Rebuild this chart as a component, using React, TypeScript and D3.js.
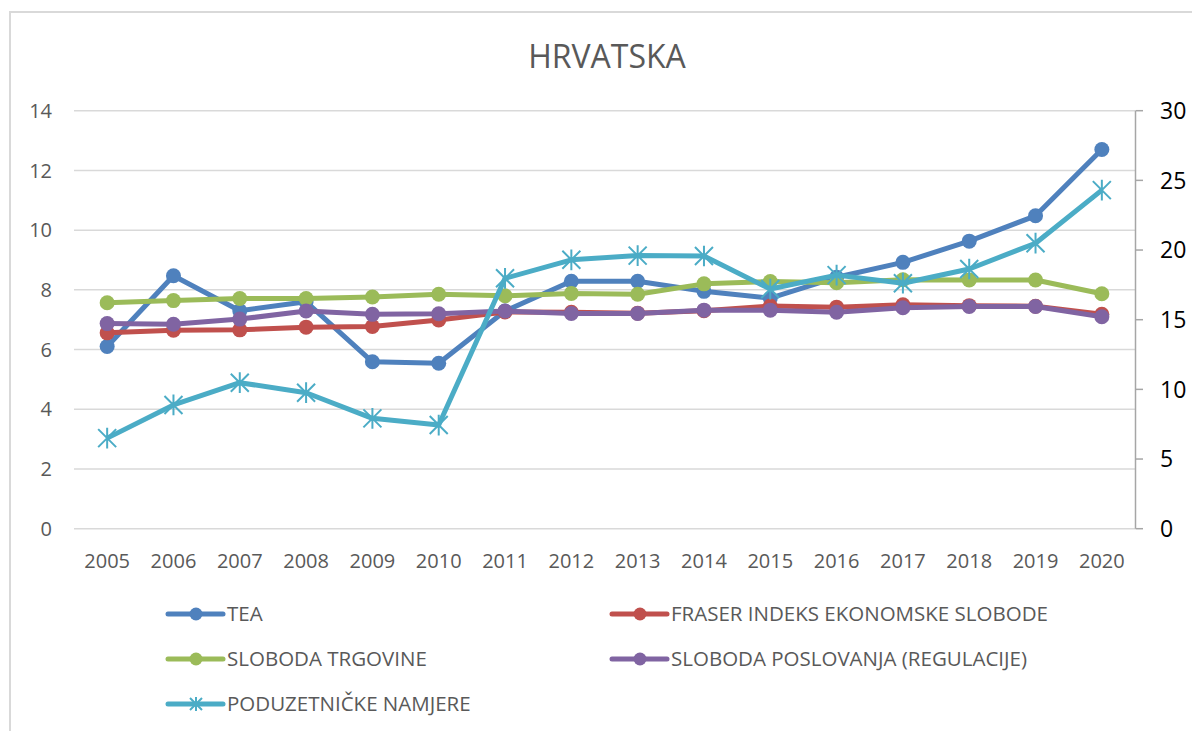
import React from 'react';
import * as d3 from 'd3';

const years = ['2005', '2006', '2007', '2008', '2009', '2010', '2011', '2012', '2013', '2014', '2015', '2016', '2017', '2018', '2019', '2020'];

// left axis series
const tea = [6.1, 8.47, 7.3, 7.6, 5.59, 5.54, 7.29, 8.29, 8.29, 7.95, 7.72, 8.42, 8.92, 9.63, 10.48, 12.7];
const fraser = [6.56, 6.65, 6.66, 6.75, 6.77, 6.99, 7.26, 7.25, 7.22, 7.3, 7.46, 7.42, 7.5, 7.47, 7.45, 7.18];
const slobodaTrgovine = [7.57, 7.64, 7.71, 7.71, 7.76, 7.85, 7.8, 7.88, 7.85, 8.2, 8.28, 8.24, 8.34, 8.33, 8.33, 7.87];
const slobodaPoslovanja = [6.87, 6.85, 7.02, 7.29, 7.18, 7.2, 7.29, 7.21, 7.21, 7.32, 7.32, 7.25, 7.4, 7.44, 7.44, 7.1];
// right axis series
const poduzetnickeNamjere = [6.5, 8.88, 10.48, 9.76, 7.92, 7.44, 17.97, 19.3, 19.6, 19.57, 17.2, 18.2, 17.62, 18.64, 20.49, 24.3];

const leftTicks = [0, 2, 4, 6, 8, 10, 12, 14];
const rightTicks = [0, 5, 10, 15, 20, 25, 30];

const series = [
  { name: 'TEA', values: tea, color: '#4F81BD', axis: 'left', marker: 'circle' },
  { name: 'FRASER INDEKS EKONOMSKE SLOBODE', values: fraser, color: '#C0504D', axis: 'left', marker: 'circle' },
  { name: 'SLOBODA TRGOVINE', values: slobodaTrgovine, color: '#9BBB59', axis: 'left', marker: 'circle' },
  { name: 'SLOBODA POSLOVANJA (REGULACIJE)', values: slobodaPoslovanja, color: '#8064A2', axis: 'left', marker: 'circle' },
  { name: 'PODUZETNIČKE NAMJERE', values: poduzetnickeNamjere, color: '#4BACC6', axis: 'right', marker: 'star' },
];

const W = 1192;
const H = 731;
const font = '"Open Sans", "Liberation Sans", sans-serif';

const starPath = (s: number) =>
  `M${-s},${-s}L${s},${s}M${-s},${s}L${s},${-s}M0,${-s * 1.15}L0,${s * 1.15}`;

const Marker = ({ type, color, x, y, r = 7.5, s = 9 }: any) =>
  type === 'circle' ? (
    <circle cx={x} cy={y} r={r} fill={color} />
  ) : (
    <path d={starPath(s)} transform={`translate(${x},${y})`} stroke={color} strokeWidth={2} fill="none" />
  );

export default function App() {
  const x = d3.scaleBand().domain(years).range([74, 1135]);
  const yL = d3.scaleLinear().domain([0, 14]).range([528.7, 110.7]);
  const yR = d3.scaleLinear().domain([0, 30]).range([528.7, 110.7]);
  const cx = (d: string) => (x(d) as number) + x.bandwidth() / 2;

  const legendPos = [
    [168, 614],
    [612, 614],
    [168, 659],
    [612, 659],
    [168, 704],
  ];

  return (
    <svg width={W} height={H} style={{ position: 'absolute', left: 0, top: 0, fontFamily: font }}>
      <rect x={0} y={0} width={W} height={H} fill="#fff" />
      <rect x={10} y={12} width={W + 20} height={H + 20} fill="none" stroke="#D9D9D9" strokeWidth={2} />

      <text x={607} y={68} textAnchor="middle" fontSize={32} fill="#595959">
        HRVATSKA
      </text>

      {/* gridlines + left labels */}
      {leftTicks.map((t) => (
        <g key={t}>
          <line x1={74} x2={1135} y1={yL(t)} y2={yL(t)} stroke="#D9D9D9" strokeWidth={1.5} />
          <text x={52} y={yL(t)} dy="0.36em" textAnchor="end" fontSize={20} fill="#595959">
            {t}
          </text>
        </g>
      ))}

      {/* right axis */}
      <line x1={1135.5} x2={1135.5} y1={110.7} y2={528.7} stroke="#A6A6A6" strokeWidth={1.5} />
      {rightTicks.map((t) => (
        <g key={t}>
          <line x1={1135.5} x2={1143} y1={yR(t)} y2={yR(t)} stroke="#A6A6A6" strokeWidth={1.5} />
          <text x={1160} y={yR(t)} dy="0.36em" fontSize={23} fill="#000">
            {t}
          </text>
        </g>
      ))}

      {/* x labels */}
      {years.map((yr) => (
        <text key={yr} x={cx(yr)} y={561} dy="0.36em" textAnchor="middle" fontSize={20} fill="#595959">
          {yr}
        </text>
      ))}

      {/* series */}
      {series.map((s) => {
        const y = s.axis === 'left' ? yL : yR;
        const line = d3
          .line<number>()
          .x((_, i) => cx(years[i]))
          .y((v) => y(v));
        return (
          <g key={s.name}>
            <path d={line(s.values) as string} fill="none" stroke={s.color} strokeWidth={5} strokeLinejoin="round" />
            {s.values.map((v, i) => (
              <Marker key={i} type={s.marker} color={s.color} x={cx(years[i])} y={y(v)} />
            ))}
          </g>
        );
      })}

      {/* legend */}
      {series.map((s, i) => {
        const [lx, ly] = legendPos[i];
        return (
          <g key={s.name}>
            <line x1={lx} x2={lx + 55} y1={ly} y2={ly} stroke={s.color} strokeWidth={5} strokeLinecap="round" />
            <Marker type={s.marker} color={s.color} x={lx + 28} y={ly} r={6.5} s={6} />
            <text x={lx + 59} y={ly} dy="0.36em" fontSize={20.5} fill="#595959">
              {s.name}
            </text>
          </g>
        );
      })}
    </svg>
  );
}
